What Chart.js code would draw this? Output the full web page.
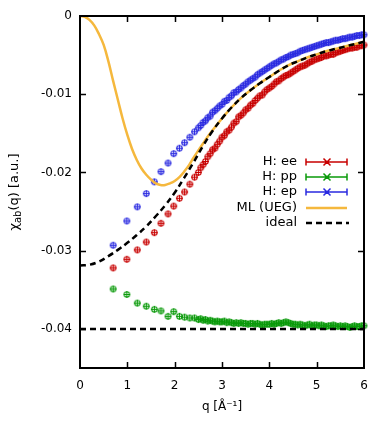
<!DOCTYPE html>
<html>
<head>
<meta charset="utf-8">
<script src="https://cdn.jsdelivr.net/npm/chart.js@4.4.1/dist/chart.umd.min.js"></script>
<style>
  body { margin: 0; background: #fff; }
  #wrap { width: 390px; height: 435px; }
</style>
</head>
<body>
<div id="wrap"><canvas id="chi-chart" width="390" height="435"></canvas></div>
<script>
// simulation q points (same for all three pair channels)
const qData = [0.70, 0.99, 1.21, 1.40, 1.57, 1.71, 1.86, 1.98, 2.10, 2.21, 2.32, 2.42,
    2.50, 2.55, 2.60, 2.65, 2.70, 2.75, 2.80, 2.85, 2.90, 2.95,
    3.00, 3.05, 3.10, 3.15, 3.20, 3.25, 3.30, 3.35, 3.40, 3.45,
    3.50, 3.55, 3.60, 3.65, 3.70, 3.75, 3.80, 3.85, 3.90, 3.95,
    4.00, 4.05, 4.10, 4.15, 4.20, 4.25, 4.30, 4.35, 4.40, 4.45,
    4.50, 4.55, 4.60, 4.65, 4.70, 4.75, 4.80, 4.85, 4.90, 4.95,
    5.00, 5.05, 5.10, 5.15, 5.20, 5.25, 5.30, 5.35, 5.40, 5.45,
    5.50, 5.55, 5.60, 5.65, 5.70, 5.75, 5.80, 5.85, 5.90, 5.95,
    6.00];
const eeValues = [-0.0322, -0.0311, -0.0299, -0.0289, -0.0277, -0.0265, -0.0253, -0.0243, -0.0233, -0.0225, -0.0215, -0.0206,
    -0.0200, -0.0194, -0.0190, -0.0186, -0.0180, -0.0176, -0.0171, -0.0169, -0.0164, -0.0160,
    -0.0155, -0.0153, -0.0148, -0.0146, -0.0142, -0.0137, -0.0135, -0.0129, -0.0127, -0.0124,
    -0.0120, -0.0118, -0.0114, -0.0112, -0.0108, -0.0105, -0.0102, -0.0101, -0.0097, -0.0094,
    -0.0092, -0.0090, -0.0087, -0.0084, -0.0083, -0.0080, -0.0078, -0.0076, -0.0075, -0.0073,
    -0.0071, -0.0069, -0.0067, -0.0065, -0.0064, -0.0063, -0.0061, -0.0059, -0.0058, -0.0056,
    -0.0055, -0.0054, -0.0053, -0.0051, -0.0051, -0.0050, -0.0049, -0.0049, -0.0047, -0.0046,
    -0.0045, -0.0044, -0.0043, -0.0042, -0.0041, -0.0041, -0.0040, -0.0040, -0.0038, -0.0038,
    -0.0037];
const ppValues = [-0.0349, -0.0356, -0.0367, -0.0371, -0.0375, -0.0377, -0.0384, -0.0378, -0.0384, -0.0385, -0.0386, -0.0386,
    -0.0388, -0.0387, -0.0389, -0.0388, -0.0390, -0.0389, -0.0390, -0.0391, -0.0390, -0.0391,
    -0.0391, -0.0390, -0.0392, -0.0391, -0.0392, -0.0393, -0.0392, -0.0393, -0.0392, -0.0393,
    -0.0393, -0.0394, -0.0393, -0.0393, -0.0394, -0.0393, -0.0394, -0.0395, -0.0394, -0.0394,
    -0.0394, -0.0393, -0.0394, -0.0393, -0.0392, -0.0393, -0.0392, -0.0391, -0.0392, -0.0393,
    -0.0394, -0.0394, -0.0395, -0.0394, -0.0395, -0.0396, -0.0395, -0.0394, -0.0396, -0.0395,
    -0.0395, -0.0396, -0.0395, -0.0396, -0.0397, -0.0396, -0.0396, -0.0395, -0.0396, -0.0397,
    -0.0396, -0.0397, -0.0396, -0.0397, -0.0398, -0.0397, -0.0396, -0.0397, -0.0397, -0.0396,
    -0.0396];
const epValues = [-0.0293, -0.0262, -0.0244, -0.0227, -0.0212, -0.0199, -0.0188, -0.0176, -0.0169, -0.0162, -0.0155, -0.0148,
    -0.0143, -0.0140, -0.0136, -0.0134, -0.0130, -0.0128, -0.0123, -0.0121, -0.0118, -0.0115,
    -0.0113, -0.0109, -0.0108, -0.0104, -0.0102, -0.0098, -0.0097, -0.0094, -0.0092, -0.0089,
    -0.0087, -0.0084, -0.0082, -0.0080, -0.0078, -0.0075, -0.0073, -0.0071, -0.0069, -0.0067,
    -0.0065, -0.0063, -0.0061, -0.0060, -0.0058, -0.0056, -0.0055, -0.0053, -0.0052, -0.0050,
    -0.0049, -0.0048, -0.0047, -0.0045, -0.0044, -0.0043, -0.0042, -0.0041, -0.0040, -0.0039,
    -0.0038, -0.0037, -0.0036, -0.0035, -0.0034, -0.0034, -0.0033, -0.0032, -0.0031, -0.0031,
    -0.0030, -0.0029, -0.0029, -0.0028, -0.0027, -0.0027, -0.0026, -0.0025, -0.0025, -0.0024,
    -0.0024];

// ML (UEG) curve
const qMl = [0.0, 0.1, 0.2, 0.3, 0.4, 0.5, 0.6, 0.7, 0.8, 0.9, 1.0, 1.1, 1.2, 1.3, 1.4, 1.5, 1.6, 1.7, 1.8, 1.9,
    2.0, 2.1, 2.2, 2.3, 2.4, 2.5, 2.6, 2.7, 2.8, 3.0, 3.2, 3.4, 3.6, 3.8, 4.0, 4.2, 4.4, 4.6, 4.8, 5.0, 5.2,
    5.4, 5.6, 5.8, 6.0];
const mlValues = [0, -0.0001, -0.0005, -0.0012, -0.0023, -0.0037, -0.0058, -0.0083, -0.0107, -0.0131, -0.0152,
    -0.0170, -0.0184, -0.0195, -0.0203, -0.0209, -0.0214, -0.0216, -0.0216, -0.0214, -0.0211, -0.0206,
    -0.0199, -0.0191, -0.0181, -0.0172, -0.0163, -0.0154, -0.0146, -0.0131, -0.0117, -0.0105, -0.0095,
    -0.0086, -0.0078, -0.0070, -0.0063, -0.0058, -0.0053, -0.0049, -0.0045, -0.0042, -0.0039, -0.0036, -0.0033];

// ideal (non-interacting) curves
const qIdeal = [0.0, 0.2, 0.4, 0.6, 0.8, 1.0, 1.2, 1.4, 1.6, 1.8, 2.0, 2.2, 2.4, 2.6, 2.8, 3.0, 3.2, 3.4, 3.6,
    3.8, 4.0, 4.2, 4.4, 4.6, 4.8, 5.0, 5.2, 5.4, 5.6, 5.8, 6.0];
const idealEe = [-0.0319, -0.0318, -0.0314, -0.0307, -0.0299, -0.0290, -0.0280, -0.0269, -0.0256, -0.0242,
    -0.0226, -0.0207, -0.0187, -0.0166, -0.0147, -0.0131, -0.0117, -0.0105, -0.0095, -0.0086, -0.0078,
    -0.0070, -0.0063, -0.0058, -0.0053, -0.0049, -0.0045, -0.0042, -0.0039, -0.0036, -0.0033];
const qIdealPp = [0, 6];
const idealPp = [-0.0400, -0.0400];

const xTicks = [0, 1, 2, 3, 4, 5, 6];
const yTicks = [0, -0.01, -0.02, -0.03, -0.04];
const yTickLabels = ['0', '-0.01', '-0.02', '-0.03', '-0.04'];

const legendLabels = ['H: ee', 'H: pp', 'H: ep', 'ML (UEG)', 'ideal'];

const RED = '#c80000';
const GREEN = '#0a9a0a';
const BLUE = '#2a2ae0';
const ORANGE = '#f5b83d';
const FONT = '"DejaVu Sans", sans-serif';

function toPoints(xs, ys) {
    return xs.map((x, i) => ({ x: x, y: ys[i] }));
}

// small marker: circle with error-bar cross
function makeMarker(color) {
    const c = document.createElement('canvas');
    c.width = 9;
    c.height = 9;
    const g = c.getContext('2d');
    g.strokeStyle = color;
    g.lineWidth = 1.1;
    g.beginPath();
    g.arc(4.5, 4.5, 2.7, 0, Math.PI * 2);
    g.moveTo(1, 4.5); g.lineTo(8, 4.5);
    g.moveTo(4.5, 1); g.lineTo(4.5, 8);
    g.stroke();
    return c;
}

const framePlugin = {
    id: 'framePlugin',
    afterDatasetsDraw(chart) {
        const ctx = chart.ctx;
        const a = chart.chartArea;
        const x = chart.scales.x;
        const y = chart.scales.y;
        ctx.save();
        // inward ticks on all four sides
        ctx.strokeStyle = '#000';
        ctx.lineWidth = 1.5;
        ctx.beginPath();
        xTicks.forEach(v => {
            if (v <= 0 || v >= 6) return;
            const px = Math.round(x.getPixelForValue(v)) + 0.5;
            ctx.moveTo(px, a.bottom); ctx.lineTo(px, a.bottom - 6);
            ctx.moveTo(px, a.top); ctx.lineTo(px, a.top + 6);
        });
        yTicks.forEach(v => {
            if (v >= 0) return;
            const py = Math.round(y.getPixelForValue(v)) + 0.5;
            ctx.moveTo(a.left, py); ctx.lineTo(a.left + 6, py);
            ctx.moveTo(a.right, py); ctx.lineTo(a.right - 6, py);
        });
        ctx.stroke();
        ctx.lineWidth = 2;
        ctx.strokeRect(a.left, a.top, a.width, a.height);

        // legend, text right aligned with sample on the right
        const rowY = [162, 177, 192, 208, 223];
        const colors = [RED, GREEN, BLUE];
        const x0 = 306, x1 = 347, xm = 327;
        ctx.font = '13px ' + FONT;
        ctx.textAlign = 'right';
        ctx.textBaseline = 'middle';
        ctx.fillStyle = '#000';
        legendLabels.forEach((label, i) => {
            const ly = rowY[i];
            ctx.fillText(label, 297, ly);
            ctx.beginPath();
            if (i < 3) {
                ctx.strokeStyle = colors[i];
                ctx.lineWidth = 1.5;
                ctx.setLineDash([]);
                ctx.moveTo(x0, ly); ctx.lineTo(x1, ly);
                ctx.moveTo(x0, ly - 3.5); ctx.lineTo(x0, ly + 3.5);
                ctx.moveTo(x1, ly - 3.5); ctx.lineTo(x1, ly + 3.5);
                ctx.moveTo(xm - 3.5, ly - 3.5); ctx.lineTo(xm + 3.5, ly + 3.5);
                ctx.moveTo(xm + 3.5, ly - 3.5); ctx.lineTo(xm - 3.5, ly + 3.5);
            } else if (i === 3) {
                ctx.strokeStyle = ORANGE;
                ctx.lineWidth = 2.5;
                ctx.setLineDash([]);
                ctx.moveTo(x0, ly); ctx.lineTo(x1, ly);
            } else {
                ctx.strokeStyle = '#000';
                ctx.lineWidth = 2.5;
                ctx.setLineDash([6, 4]);
                ctx.moveTo(x0, ly); ctx.lineTo(x1 + 2, ly);
            }
            ctx.stroke();
        });
        ctx.setLineDash([]);

        // y axis title with subscript
        ctx.translate(15, (a.top + a.bottom) / 2);
        ctx.rotate(-Math.PI / 2);
        const parts = [['χ', '13px ' + FONT, 0], ['ab', '10px ' + FONT, 3], ['(q) [a.u.]', '13px ' + FONT, 0]];
        let total = 0;
        parts.forEach(p => { ctx.font = p[1]; total += ctx.measureText(p[0]).width; });
        let cx = -total / 2;
        ctx.textAlign = 'left';
        parts.forEach(p => {
            ctx.font = p[1];
            ctx.fillText(p[0], cx, p[2]);
            cx += ctx.measureText(p[0]).width;
        });
        ctx.restore();
    }
};

function chiChart() {
    const tickFont = { family: FONT, size: 12 };
    new Chart(document.getElementById('chi-chart'), {
        type: 'scatter',
        data: {
            datasets: [
                {
                    label: 'ideal',
                    data: toPoints(qIdeal, idealEe),
                    showLine: true,
                    borderColor: '#000',
                    borderWidth: 2.5,
                    borderDash: [6, 4],
                    pointRadius: 0,
                    tension: 0.4,
                    order: 0
                },
                {
                    label: 'ideal pp',
                    data: toPoints(qIdealPp, idealPp),
                    showLine: true,
                    borderColor: '#000',
                    borderWidth: 2.5,
                    borderDash: [6, 4],
                    pointRadius: 0,
                    order: 0
                },
                {
                    label: 'ML (UEG)',
                    data: toPoints(qMl, mlValues),
                    showLine: true,
                    borderColor: ORANGE,
                    borderWidth: 2.5,
                    pointRadius: 0,
                    tension: 0.4,
                    order: 1
                },
                {
                    label: 'H: ep',
                    data: toPoints(qData, epValues),
                    pointStyle: makeMarker(BLUE),
                    pointRadius: 4,
                    clip: 5,
                    order: 2
                },
                {
                    label: 'H: pp',
                    data: toPoints(qData, ppValues),
                    pointStyle: makeMarker(GREEN),
                    pointRadius: 4,
                    clip: 5,
                    order: 3
                },
                {
                    label: 'H: ee',
                    data: toPoints(qData, eeValues),
                    pointStyle: makeMarker(RED),
                    pointRadius: 4,
                    clip: 5,
                    order: 4
                }
            ]
        },
        options: {
            responsive: false,
            animation: false,
            events: [],
            devicePixelRatio: 1,
            layout: { padding: { top: 16, right: 26, bottom: 0, left: 0 } },
            plugins: {
                legend: { display: false },
                tooltip: { enabled: false }
            },
            scales: {
                x: {
                    type: 'linear',
                    min: 0,
                    max: 6,
                    afterBuildTicks: s => { s.ticks = xTicks.map(v => ({ value: v })); },
                    afterFit: s => { s.height = 67; },
                    grid: { display: false, drawTicks: false },
                    border: { display: false },
                    ticks: { color: '#000', font: tickFont, padding: 11, maxRotation: 0, autoSkip: false,
                        callback: v => String(v) },
                    title: { display: true, text: 'q [Å⁻¹]', color: '#000', font: tickFont,
                        padding: { top: 0, bottom: 21 } }
                },
                y: {
                    type: 'linear',
                    min: -0.045,
                    max: 0,
                    afterBuildTicks: s => { s.ticks = yTicks.map(v => ({ value: v })); },
                    afterFit: s => { s.width = 80; },
                    grid: { display: false, drawTicks: false },
                    border: { display: false },
                    ticks: { color: '#000', font: tickFont, padding: 8, autoSkip: false,
                        callback: (v, i) => yTickLabels[i] }
                }
            }
        },
        plugins: [framePlugin]
    });
}

chiChart();
</script>
</body>
</html>
